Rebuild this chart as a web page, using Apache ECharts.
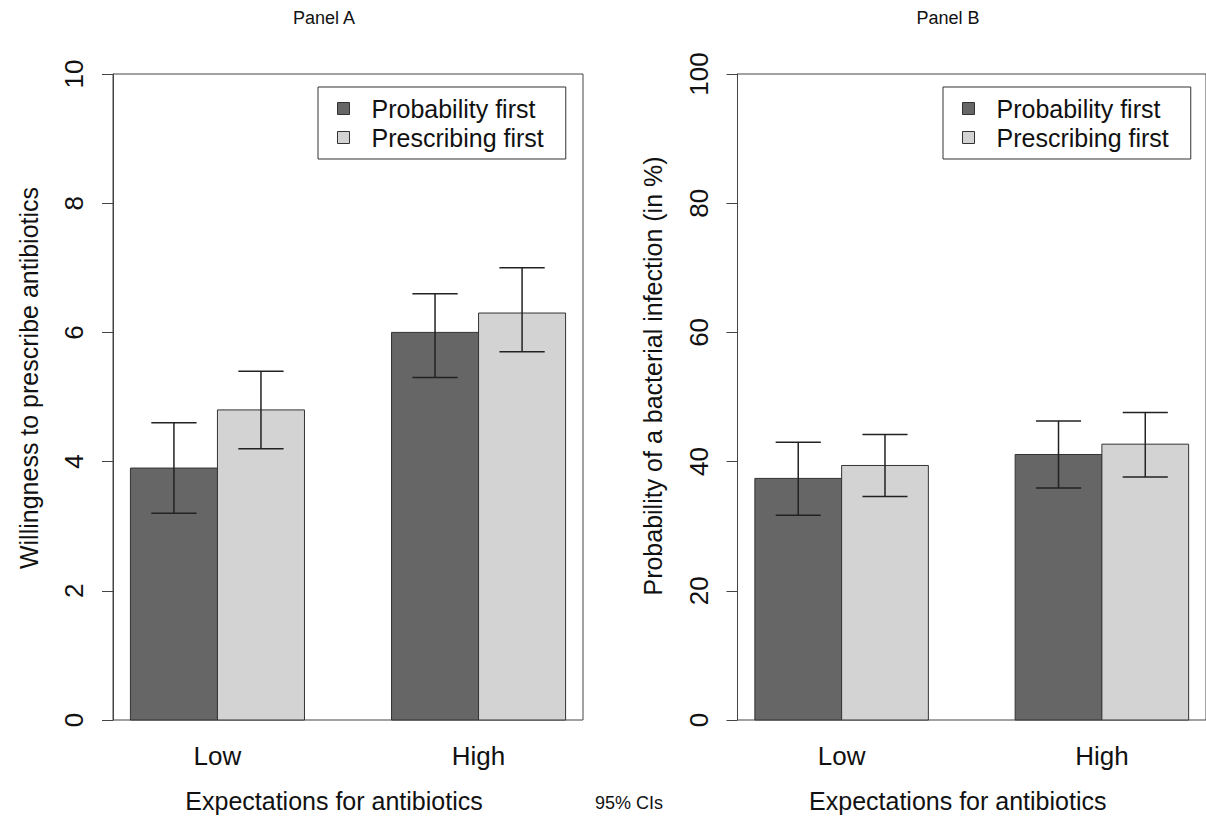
<!DOCTYPE html>
<html><head><meta charset="utf-8">
<script src="https://cdn.jsdelivr.net/npm/echarts@6/dist/echarts.min.js"></script>
<style>html,body{margin:0;padding:0;background:#fff}#c{width:1206px;height:824px}</style>
</head><body><div id="c"></div>
<script>
// ---- data ----
const categories = ['Low', 'High'];
const seriesNames = ['Probability first', 'Prescribing first'];
const panelTitles = ['Panel A', 'Panel B'];
const yTitles = ['Willingness to prescribe antibiotics', 'Probability of a bacterial infection (in %)'];
const xTitle = 'Expectations for antibiotics';
const noteText = '95% CIs';
// Panel A (0-10 scale)
const probFirstA = [3.9, 6.0];
const probFirstA_lo = [3.2, 5.3];
const probFirstA_hi = [4.6, 6.6];
const prescFirstA = [4.8, 6.3];
const prescFirstA_lo = [4.2, 5.7];
const prescFirstA_hi = [5.4, 7.0];
// Panel B (percent)
const probFirstB = [37.4, 41.1];
const probFirstB_lo = [31.7, 35.9];
const probFirstB_hi = [43.0, 46.3];
const prescFirstB = [39.4, 42.7];
const prescFirstB_lo = [34.6, 37.6];
const prescFirstB_hi = [44.2, 47.6];
const yMax = [10, 100];
const yInterval = [2, 20];

// ---- layout helpers (R barplot geometry: groups centred at 2 and 5, bars 1 unit wide) ----
const groupCenters = [2, 5];
const barColors = ['#666666', '#d3d3d3'];
const FONT = '"Liberation Sans", Arial, Helvetica, sans-serif';
const TXT = '#111';
const LINE = '#444';

function rows(v, lo, hi) { return v.map((d, i) => [i, d, lo[i], hi[i]]); }

function makeRender(offset) {
  return function (params, api) {
    const g = api.value(0), v = api.value(1), lo = api.value(2), hi = api.value(3);
    const xc = groupCenters[g] + offset;
    const p0 = api.coord([xc - 0.5, 0]);
    const p1 = api.coord([xc + 0.5, v]);
    const pl = api.coord([xc, lo]);
    const ph = api.coord([xc, hi]);
    const cap = api.size([0.26, 0])[0];
    const ls = { stroke: '#222', lineWidth: 1.5 };
    return {
      type: 'group',
      children: [
        { type: 'rect', shape: { x: p0[0], y: p1[1], width: p1[0] - p0[0], height: p0[1] - p1[1] },
          style: { fill: api.visual('color'), stroke: '#333', lineWidth: 1 } },
        { type: 'line', shape: { x1: pl[0], y1: pl[1], x2: ph[0], y2: ph[1] }, style: ls },
        { type: 'line', shape: { x1: ph[0] - cap, y1: ph[1], x2: ph[0] + cap, y2: ph[1] }, style: ls },
        { type: 'line', shape: { x1: pl[0] - cap, y1: pl[1], x2: pl[0] + cap, y2: pl[1] }, style: ls }
      ]
    };
  };
}

const panelData = [
  [rows(probFirstA, probFirstA_lo, probFirstA_hi), rows(prescFirstA, prescFirstA_lo, prescFirstA_hi)],
  [rows(probFirstB, probFirstB_lo, probFirstB_hi), rows(prescFirstB, prescFirstB_lo, prescFirstB_hi)]
];

const gridLefts = [113, 737.5];
const legendLefts = [318, 943];
const titleX = [324, 948];
const yNameShift = [38, 42];

const grids = [], xAxes = [], yAxes = [], series = [], legends = [];
for (let p = 0; p < 2; p++) {
  grids.push({ left: gridLefts[p], top: 74, width: 470, height: 646, show: true,
    borderColor: LINE, borderWidth: 1, backgroundColor: 'transparent' });
  xAxes.push({
    gridIndex: p, type: 'value', min: 0.8, max: 6.2,
    axisLine: { show: false }, axisTick: { show: false }, splitLine: { show: false },
    axisLabel: { customValues: groupCenters, formatter: v => categories[groupCenters.indexOf(v)],
      fontSize: 26, fontFamily: FONT, color: TXT, margin: 23 },
    name: xTitle, nameLocation: 'middle', nameGap: 68,
    nameTextStyle: { fontSize: 25, fontFamily: FONT, color: TXT, padding: [0, 28, 0, 0] }
  });
  yAxes.push({
    gridIndex: p, type: 'value', min: 0, max: yMax[p], interval: yInterval[p],
    axisLine: { show: true, lineStyle: { color: LINE, width: 1 } },
    axisTick: { show: true, length: 11, lineStyle: { color: LINE, width: 1 } },
    splitLine: { show: false },
    axisLabel: { rotate: 90, fontSize: 26, fontFamily: FONT, color: TXT, margin: 26 },
    name: yTitles[p], nameLocation: 'middle', nameRotate: 90, nameGap: 72,
    nameTextStyle: { fontSize: 25, fontFamily: FONT, color: TXT, padding: [0, 0, 0, yNameShift[p]] }
  });
  for (let s = 0; s < 2; s++) {
    series.push({
      type: 'custom', name: seriesNames[s], xAxisIndex: p, yAxisIndex: p,
      itemStyle: { color: barColors[s], borderColor: '#333', borderWidth: 1 },
      renderItem: makeRender(s - 0.5),
      encode: { x: 0, y: 1 },
      data: panelData[p][s]
    });
  }
  legends.push({
    left: legendLefts[p], top: 87, orient: 'vertical', data: seriesNames, icon: 'rect',
    itemWidth: 12, itemHeight: 12, itemGap: 4, selectedMode: false,
    padding: [9, 22, 9, 19], borderColor: '#333', borderWidth: 1, backgroundColor: '#fff',
    itemStyle: { borderColor: '#333', borderWidth: 1 },
    textStyle: { fontSize: 25, lineHeight: 25, fontFamily: FONT, color: TXT, padding: [0, 0, 0, 17] }
  });
}

const graphics = [];
for (let p = 0; p < 2; p++) {
  graphics.push({ type: 'text', x: titleX[p], y: 18,
    style: { text: panelTitles[p], fontSize: 18, fontFamily: FONT, fill: TXT, textAlign: 'center', textVerticalAlign: 'middle' } });
}
graphics.push({ type: 'text', x: 629, y: 803,
  style: { text: noteText, fontSize: 18, fontFamily: FONT, fill: TXT, textAlign: 'center', textVerticalAlign: 'middle' } });

const chart = echarts.init(document.getElementById('c'), null, { renderer: 'svg' });
chart.setOption({
  animation: false,
  backgroundColor: '#fff',
  grid: grids, xAxis: xAxes, yAxis: yAxes, series: series, legend: legends, graphic: graphics
});
</script></body></html>
